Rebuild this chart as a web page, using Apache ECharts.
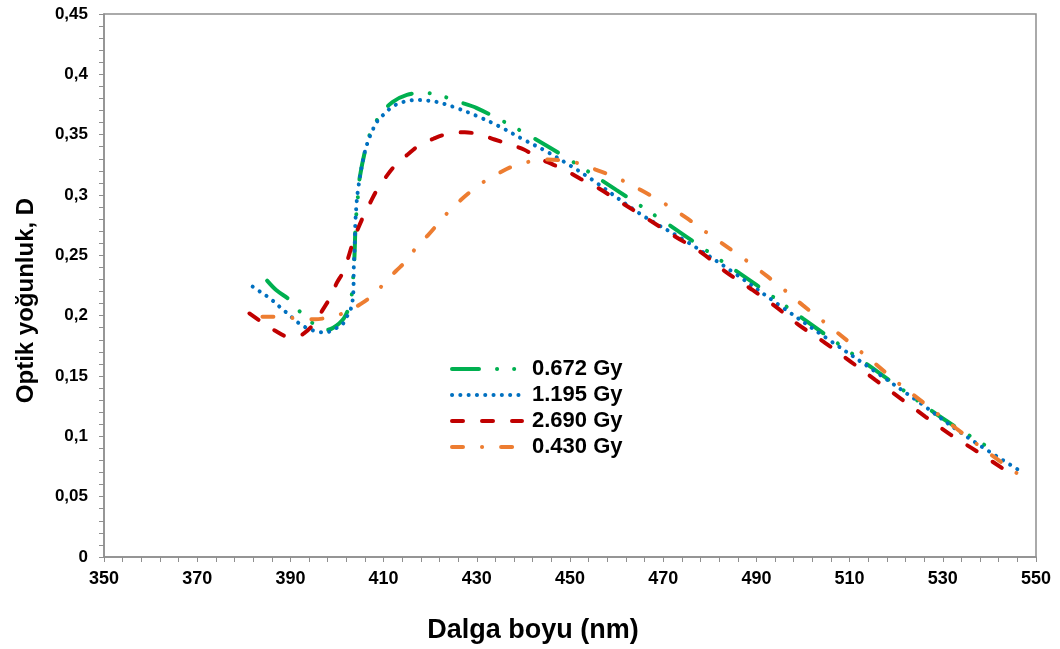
<!DOCTYPE html>
<html>
<head>
<meta charset="utf-8">
<script src="https://cdn.jsdelivr.net/npm/echarts@6/dist/echarts.min.js"></script>
<style>
  html, body { margin: 0; padding: 0; background: #ffffff; }
  #chart { width: 1060px; height: 649px; }
</style>
</head>
<body>
<div id="chart"></div>
<script>
// Absorption spectra: optical density vs wavelength for four doses
const seriesNames = ['0.672 Gy', '1.195 Gy', '2.690 Gy', '0.430 Gy'];

const wl0672 = [385, 387, 390, 392.4, 395.4, 397.4, 399.2, 401.5, 402.9, 403.3, 403.7, 404.0, 404.4, 404.9, 406.5, 407.6, 409.4, 411.9, 415, 418.5, 422.1, 425.8, 430, 440, 450, 460, 470, 480, 490, 500, 510, 520, 530, 541];
const od0672 = [0.229, 0.221, 0.2126, 0.2018, 0.192, 0.188, 0.190, 0.198, 0.2115, 0.224, 0.245, 0.276, 0.295, 0.315, 0.344, 0.355, 0.367, 0.377, 0.383, 0.3847, 0.3825, 0.3775, 0.372, 0.352, 0.329, 0.304, 0.2785, 0.252, 0.2255, 0.1975, 0.170, 0.1425, 0.1148, 0.088];

const wl1195 = [381.9, 383.5, 385.1, 386.5, 387.9, 389.4, 390.8, 392.2, 394, 395.8, 397.6, 399.4, 401, 402.1, 403, 403.5, 403.6, 403.8, 404, 404.5, 405.8, 407.1, 408.8, 410.1, 411.5, 413.3, 415.1, 417, 419, 421, 425, 430, 435, 440, 445, 450, 455, 465, 475, 485, 495, 505, 515, 525, 535, 546.6];
const od1195 = [0.224, 0.2198, 0.2157, 0.2115, 0.2066, 0.2018, 0.197, 0.1927, 0.189, 0.1867, 0.186, 0.189, 0.192, 0.199, 0.206, 0.219, 0.24, 0.258, 0.2818, 0.304, 0.333, 0.349, 0.362, 0.367, 0.372, 0.376, 0.3778, 0.3789, 0.3783, 0.3775, 0.373, 0.3655, 0.3565, 0.346, 0.336, 0.3245, 0.312, 0.2845, 0.2615, 0.236, 0.2085, 0.1815, 0.155, 0.128, 0.1, 0.0713];

const wl2690 = [381.2, 383.7, 386.5, 389.7, 391.5, 392.9, 395.1, 396.9, 398.5, 399.9, 401.5, 403.7, 405.5, 407.2, 408.7, 410.5, 412.6, 415.1, 417.6, 420.7, 423.8, 427.4, 430.7, 433.8, 437.2, 440.1, 443.3, 446.5, 449.4, 452.3, 455.2, 460.9, 466.7, 472.4, 478.2, 483.2, 489, 494, 499, 504.8, 510.2, 515.5, 520.9, 526.3, 531.8, 537.5, 542.9];
const od2690 = [0.2018, 0.195, 0.188, 0.1826, 0.183, 0.1853, 0.1936, 0.2046, 0.2148, 0.2267, 0.2377, 0.264, 0.281, 0.2942, 0.305, 0.315, 0.325, 0.3334, 0.341, 0.3466, 0.3507, 0.352, 0.35, 0.346, 0.3416, 0.3377, 0.3306, 0.325, 0.3196, 0.3133, 0.3077, 0.294, 0.28, 0.266, 0.2523, 0.237, 0.2217, 0.2079, 0.1926, 0.1773, 0.162, 0.1468, 0.1315, 0.1162, 0.101, 0.0871, 0.0732];

const wl0430 = [384, 387.9, 391.6, 395.2, 398.7, 402, 405.2, 407.9, 410.2, 412.6, 415, 417.1, 419.5, 421.7, 423.9, 426.5, 429, 431.9, 434.9, 437.9, 441.5, 445, 448.3, 452.1, 455.5, 460, 465, 470, 475, 480, 485, 490, 495, 500, 505, 510, 515, 520, 526, 532.9, 540.8, 545.8];
const od0430 = [0.199, 0.199, 0.1977, 0.197, 0.199, 0.203, 0.21, 0.2175, 0.2272, 0.2368, 0.246, 0.257, 0.2666, 0.2763, 0.286, 0.2956, 0.3038, 0.312, 0.3185, 0.324, 0.3278, 0.3295, 0.3286, 0.326, 0.3211, 0.3143, 0.3045, 0.2935, 0.281, 0.267, 0.2535, 0.2395, 0.2245, 0.2085, 0.1933, 0.1778, 0.1618, 0.1455, 0.1274, 0.1065, 0.0835, 0.0697];

const xTicks = { min: 350, max: 550, step: 20 };
const yTicks = { min: 0, max: 0.45, step: 0.05 };

const pair = (xs, ys) => xs.map((x, i) => [x, ys[i]]);

const styles = [
  { color: '#00B050', dash: [27, 18, 0.1, 17, 0.1, 18] },
  { color: '#0070C0', dash: [0.1, 8.2] },
  { color: '#C00000', dash: [11, 19] },
  { color: '#ED7D31', dash: [11, 19, 0.1, 19] }
];
const dataSets = [pair(wl0672, od0672), pair(wl1195, od1195), pair(wl2690, od2690), pair(wl0430, od0430)];

const FONT = '"Liberation Sans", Arial, sans-serif';
const AXIS_GRAY = '#8f8f8f';

const chart = echarts.init(document.getElementById('chart'), null, { renderer: 'canvas' });
chart.setOption({
  animation: false,
  backgroundColor: '#ffffff',
  grid: {
    left: 104, right: 24, top: 14, bottom: 90,
    show: true, borderColor: AXIS_GRAY, borderWidth: 1.5, backgroundColor: 'transparent'
  },
  legend: {
    orient: 'vertical',
    left: 445, top: 353,
    itemWidth: 70, itemHeight: 14, itemGap: 4,
    itemStyle: { opacity: 0 },
    lineStyle: { width: 4 },
    textStyle: { fontFamily: FONT, fontWeight: 'bold', fontSize: 22, color: '#000', lineHeight: 22, padding: [0, 0, 0, 5] },
    data: seriesNames
  },
  xAxis: {
    type: 'value',
    min: xTicks.min, max: xTicks.max, interval: xTicks.step,
    name: 'Dalga boyu (nm)',
    nameLocation: 'middle', nameGap: 60,
    nameTextStyle: { fontFamily: FONT, fontWeight: 'bold', fontSize: 27, color: '#000', padding: [0, 74, 0, 0] },
    axisLine: { show: true, onZero: false, lineStyle: { color: AXIS_GRAY, width: 1.5 } },
    axisTick: { show: true, inside: false, length: 5, lineStyle: { color: AXIS_GRAY } },
    minorTick: { show: true, splitNumber: 5, length: 5, lineStyle: { color: AXIS_GRAY } },
    splitLine: { show: false },
    axisLabel: { margin: 13, fontFamily: FONT, fontWeight: 'bold', fontSize: 18, color: '#000' }
  },
  yAxis: {
    type: 'value',
    min: yTicks.min, max: yTicks.max, interval: yTicks.step,
    name: 'Optik yoğunluk, D',
    nameLocation: 'middle', nameGap: 66, nameRotate: 90,
    nameTextStyle: { fontFamily: FONT, fontWeight: 'bold', fontSize: 24, color: '#000', padding: [0, 30, 0, 0] },
    axisLine: { show: true, lineStyle: { color: AXIS_GRAY, width: 1.5 } },
    axisTick: { show: true, inside: false, length: 5, lineStyle: { color: AXIS_GRAY } },
    minorTick: { show: true, splitNumber: 5, length: 5, lineStyle: { color: AXIS_GRAY } },
    splitLine: { show: false },
    axisLabel: {
      margin: 16, fontFamily: FONT, fontWeight: 'bold', fontSize: 17, color: '#000',
      formatter: v => String(+v.toFixed(2)).replace('.', ',')
    }
  },
  series: seriesNames.map((name, i) => ({
    name,
    type: 'line',
    data: dataSets[i],
    showSymbol: false,
    symbol: 'none',
    smooth: 0.35,
    color: styles[i].color,
    lineStyle: { color: styles[i].color, width: 4, type: styles[i].dash, cap: 'round' },
    z: 2 + i
  }))
});
</script>
</body>
</html>
